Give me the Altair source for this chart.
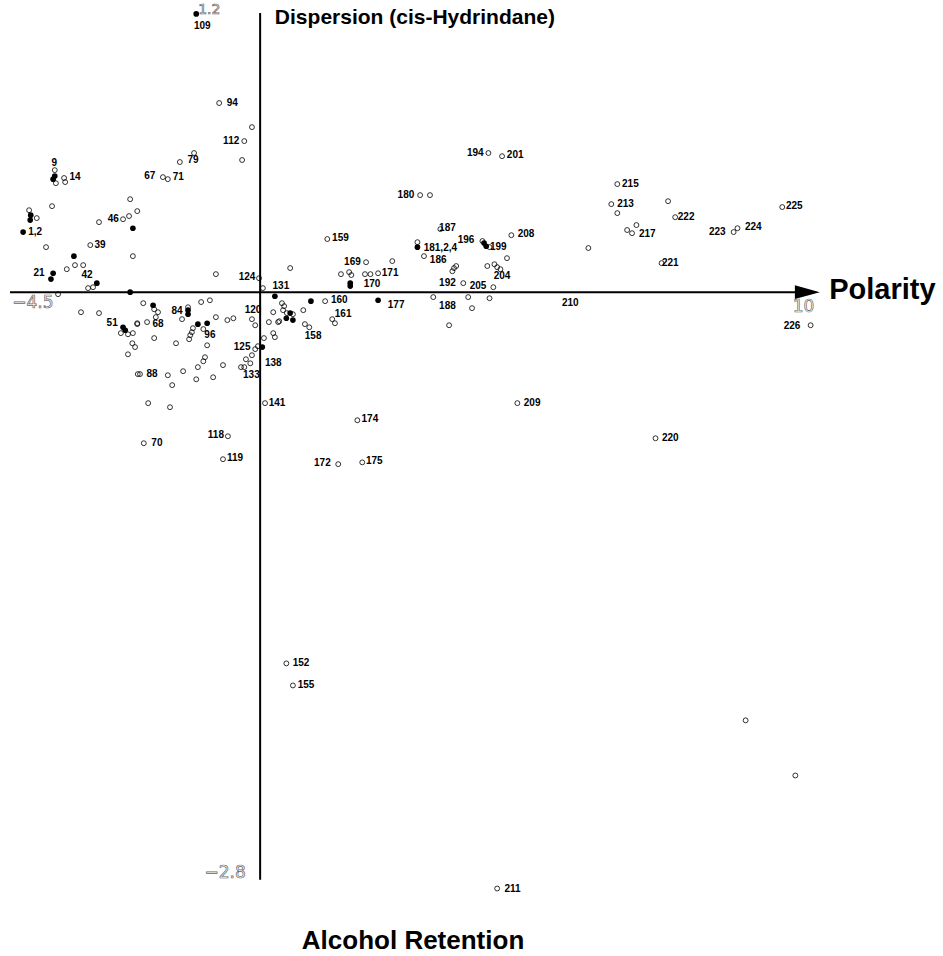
import altair as alt
import pandas as pd

# ---- data points (x = polarity, y = dispersion / alcohol retention) ----
pt_x = [-3.76, -3.76, -3.79, -3.74, -3.59, -3.57, -3.81, -4.23, -4.20, -4.09,
        -4.21, -4.34, -3.92, -3.11, -3.41, -3.39, -3.24, -3.54, -3.79, -3.83,
        -2.99, -3.15, -3.06, -3.70, -2.38, -2.95, -2.51, -2.40, -2.25, -2.38,
        -2.33, -2.33, -0.15, -0.29, -0.33, -1.21, -1.47, -1.78, -1.69, -0.81,
        -0.02, 0.05, -0.75, -1.17, -3.28, -2.95, -2.51, -2.47, -2.55, -2.42,
        -2.33, -2.25, -2.34, -2.29, -2.42, -2.24, -2.14, -1.96, -1.94, -1.87,
        -1.91, -1.32, -1.32, -1.32, -1.43, -1.08, -0.92, -0.81, -0.60, -0.49,
        -0.15, -0.09, 0.24, 0.16, 0.33, -2.25, -2.07, -1.94, -1.54, -1.14,
        -0.97, -1.23, -1.25, -1.04, -1.28, -1.30, -0.97, -0.09, -0.04, 0.04,
        0.07, -0.15, -0.26, -0.18, -0.35, -0.29, -1.01, -1.04, -1.14, -0.68,
        -1.41, -1.69, -1.61, -1.17, -0.86, -2.20, -2.05, -1.65, 0.09, -0.59,
        -2.13, -0.68,
        1.23, 1.94, 2.42, 0.55, 1.48, 1.63, 1.67, 1.92, 2.02, 2.16,
        1.65, 1.65, 0.27, 0.40, 0.44, 0.42, 0.49, 0.55, 0.60, 0.48,
        0.60, 0.35, 0.79, 0.93, 1.19, 1.32, 1.37, 0.82, 0.90, 2.16,
        0.24, 0.27, 2.93, 3.11, 3.30, 4.07, 4.10, 4.14, 4.20, 4.60,
        2.88, 2.88, 3.00, 4.52, 3.52, 3.55, 3.59, 4.16, 4.29, 4.34,
        4.40, 3.72, 4.27, 3.17, 3.81, 3.88, 4.20, 3.46, 4.18, 4.43,
        6.01, 6.54, 6.43, 6.54, 7.47, 7.60, 6.89, 6.72, 6.81, 8.67,
        8.74, 9.56, 7.35, 10.08, 4.71, 1.78, 1.43, 1.87, 7.24, 0.48,
        0.60, 4.34, 8.89, 9.80]
pt_y = [0.542, 0.516, 0.502, 0.484, 0.507, 0.489, 0.382, 0.364, 0.342, 0.329,
        0.320, 0.267, 0.200, 0.209, 0.160, 0.120, 0.120, 0.102, 0.084, 0.058,
        0.040, 0.018, 0.022, -0.009, 0.000, 0.311, 0.324, 0.338, 0.360, 0.413,
        0.284, 0.160, 0.733, 0.671, 0.587, 0.618, 0.578, 0.511, 0.502, 0.080,
        0.062, 0.018, 0.840, 1.236, -0.089, -0.093, -0.156, -0.169, -0.182, -0.187,
        -0.182, -0.142, -0.227, -0.244, -0.276, -0.364, -0.049, -0.058, -0.076, -0.089,
        -0.111, -0.067, -0.080, -0.098, -0.120, -0.044, -0.036, -0.111, -0.124, -0.116,
        -0.120, -0.147, -0.089, -0.133, -0.133, -0.138, -0.133, -0.204, -0.227, -0.142,
        -0.138, -0.160, -0.178, -0.164, -0.191, -0.209, -0.236, -0.253, -0.240, -0.244,
        -0.204, -0.280, -0.298, -0.316, -0.333, -0.333, -0.289, -0.307, -0.333, -0.324,
        -0.351, -0.369, -0.413, -0.387, -0.378, -0.364, -0.493, -0.511, -0.493, -0.640,
        -0.671, -0.742,
        0.236, 0.133, 0.138, 0.107, 0.080, 0.089, 0.076, 0.080, 0.080, 0.084,
        0.040, 0.027, -0.018, -0.049, -0.062, -0.080, -0.093, -0.093, -0.098, -0.116,
        -0.124, -0.129, -0.080, -0.040, -0.040, -0.120, -0.138, -0.142, -0.156, -0.036,
        -0.182, -0.200, 0.431, 0.431, 0.280, 0.227, 0.218, 0.204, 0.200, 0.253,
        0.200, 0.222, 0.160, 0.151, 0.093, 0.107, 0.116, 0.116, 0.124, 0.111,
        0.102, 0.040, 0.022, -0.022, -0.022, -0.071, -0.027, -0.147, 0.618, 0.604,
        0.196, 0.480, 0.391, 0.351, 0.404, 0.333, 0.298, 0.276, 0.262, 0.267,
        0.284, 0.378, 0.129, -0.147, -0.493, -0.569, -0.764, -0.756, -0.649, -1.649,
        -1.747, -2.649, -1.902, -2.147]
pt_filled = [0, 1, 1, 0, 0, 0, 0, 0, 1, 0,
             1, 1, 0, 0, 1, 0, 0, 0, 1, 1,
             1, 0, 0, 0, 1, 0, 0, 0, 0, 0,
             1, 0, 0, 0, 0, 0, 0, 0, 0, 0,
             0, 0, 0, 1, 0, 0, 1, 1, 0, 0,
             0, 0, 0, 0, 0, 0, 0, 1, 0, 0,
             0, 0, 1, 1, 0, 0, 0, 0, 0, 0,
             0, 0, 0, 0, 0, 0, 0, 0, 0, 1,
             1, 0, 0, 0, 0, 0, 0, 0, 0, 1,
             0, 0, 0, 0, 0, 0, 0, 0, 0, 0,
             0, 0, 0, 0, 0, 0, 0, 0, 0, 0,
             0, 0,
             0, 0, 0, 0, 0, 0, 0, 0, 0, 0,
             1, 1, 1, 0, 0, 0, 0, 1, 0, 1,
             1, 0, 0, 1, 0, 0, 0, 0, 0, 1,
             0, 0, 0, 0, 0, 0, 1, 1, 0, 0,
             1, 0, 0, 0, 0, 0, 0, 0, 0, 0,
             0, 0, 0, 0, 0, 0, 0, 0, 0, 0,
             0, 0, 0, 0, 0, 0, 0, 0, 0, 0,
             0, 0, 0, 0, 0, 0, 0, 0, 0, 0,
             0, 0, 0, 0]

# ---- compound number labels ----
lab_text = ["9", "14", "1,2", "39", "46", "67", "71", "79", "112", "94",
            "109", "21", "42", "51", "84", "68", "96", "88", "70", "118",
            "119", "120", "124", "125", "133", "138", "141", "131", "159", "169",
            "171", "170", "160", "161", "158", "177", "180", "187", "196", "199",
            "208", "181,2,4", "186", "204", "192", "205", "188", "194", "201", "210",
            "215", "213", "222", "217", "223", "224", "225", "221", "226", "209",
            "174", "172", "175", "220", "152", "155", "211"]
lab_x = [-3.77, -3.39, -4.12, -2.93, -2.69, -2.02, -1.50, -1.23, -0.53, -0.51,
         -1.06, -4.05, -3.17, -2.71, -1.52, -1.87, -0.92, -1.98, -1.89, -0.81,
         -0.46, -0.13, -0.24, -0.33, -0.16, 0.24, 0.31, 0.38, 1.47, 1.69,
         2.38, 2.05, 1.45, 1.52, 0.97, 2.49, 2.67, 3.43, 3.77, 4.36,
         4.87, 3.30, 3.26, 4.43, 3.43, 3.99, 3.43, 3.94, 4.67, 5.68,
         6.78, 6.69, 7.80, 7.09, 8.37, 9.03, 9.78, 7.51, 9.74, 4.98,
         2.01, 1.14, 2.09, 7.51, 0.75, 0.84, 4.62]
lab_y = [0.573, 0.511, 0.267, 0.209, 0.324, 0.516, 0.511, 0.587, 0.671, 0.840,
         1.182, 0.084, 0.076, -0.138, -0.084, -0.142, -0.191, -0.364, -0.671, -0.636,
         -0.738, -0.080, 0.067, -0.244, -0.369, -0.316, -0.493, 0.027, 0.240, 0.133,
         0.084, 0.036, -0.036, -0.098, -0.196, -0.058, 0.431, 0.284, 0.231, 0.200,
         0.258, 0.196, 0.142, 0.071, 0.040, 0.027, -0.062, 0.618, 0.609, -0.049,
         0.480, 0.391, 0.333, 0.258, 0.267, 0.289, 0.382, 0.129, -0.151, -0.493,
         -0.564, -0.760, -0.751, -0.649, -1.649, -1.747, -2.649]

# ---- axis end values and axis names ----
end_text = ["\u22124.5", "1.2", "\u22122.8", "10"]
end_x = [-4.16, -0.93, -0.64, 9.95]
end_y = [-0.049, 1.252, -2.58, -0.067]
end_size = [17, 14, 17, 17]

title_top = "Dispersion (cis-Hydrindane)"
title_right = "Polarity"
title_bottom = "Alcohol Retention"

X_DOM = [-4.58, 10.16]
Y_DOM = [-2.70, 1.28]
xs = alt.Scale(domain=X_DOM, nice=False, zero=False)
ys = alt.Scale(domain=Y_DOM, nice=False, zero=False)

pts = pd.DataFrame({"x": pt_x, "y": pt_y, "f": pt_filled})
labs = pd.DataFrame({"t": lab_text, "x": lab_x, "y": lab_y})
ends = pd.DataFrame({"t": end_text, "x": end_x, "y": end_y, "s": end_size})
axes_df = pd.DataFrame({"x1": [-4.58, 0.0], "x2": [10.0, 0.0],
                        "y1": [0.0, 1.24], "y2": [0.0, -2.61]})
arrow_df = pd.DataFrame({"x": [10.02], "y": [0.0]})
titles = pd.DataFrame({"t": [title_top, title_right, title_bottom],
                       "x": [0.27, 10.42, 2.80],
                       "y": [1.218, 0.009, -2.88],
                       "s": [21, 29, 26],
                       "a": ["left", "left", "center"]})

X = alt.X("x:Q", scale=xs, axis=None)
Y = alt.Y("y:Q", scale=ys, axis=None)

axes = alt.Chart(axes_df).mark_rule(color="black", strokeWidth=2).encode(
    x=alt.X("x1:Q", scale=xs, axis=None), x2="x2:Q",
    y=alt.Y("y1:Q", scale=ys, axis=None), y2="y2:Q")

arrow = alt.Chart(arrow_df).mark_point(
    shape="M-1,-0.55L1,0L-1,0.55Z", filled=True, color="black", size=620, opacity=1
).encode(X, Y)

open_pts = alt.Chart(pts).transform_filter("datum.f == 0").mark_point(
    shape="circle", filled=False, color="black", strokeWidth=0.8, size=24, opacity=1
).encode(X, Y)

fill_pts = alt.Chart(pts).transform_filter("datum.f == 1").mark_point(
    shape="circle", filled=True, color="black", size=32, opacity=1
).encode(X, Y)

labels = alt.Chart(labs).mark_text(
    font="Liberation Sans", fontWeight="bold", fontSize=10, color="black",
    align="center", baseline="middle"
).encode(X, Y, text="t:N")

end_labels = alt.Chart(ends).mark_text(
    font="DejaVu Sans", fontWeight="normal", fill="white",
    stroke="#666666", strokeWidth=0.7, align="center", baseline="middle"
).encode(X, Y, text="t:N", size=alt.Size("s:Q", scale=None, legend=None))

def title_layer(i):
    row = titles.iloc[[i]]
    return alt.Chart(row).mark_text(
        font="Liberation Sans", fontWeight="bold", fontSize=int(row["s"].iloc[0]),
        color="black", align=row["a"].iloc[0], baseline="middle"
    ).encode(X, Y, text="t:N")

chart = alt.layer(
    axes, arrow, open_pts, fill_pts, end_labels, labels,
    title_layer(0), title_layer(1), title_layer(2)
).properties(
    width=805, height=896,
    padding={"left": 10, "top": 4, "right": 128, "bottom": 56},
    autosize=alt.AutoSizeParams(type="none"),
    background="white"
).configure_view(stroke=None)

chart.save("out.html", embed_options={"renderer": "svg", "actions": False})
